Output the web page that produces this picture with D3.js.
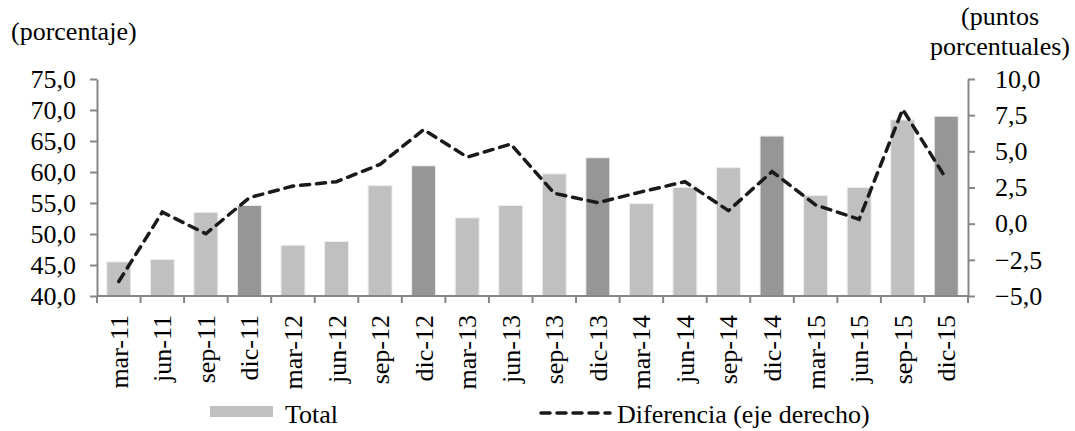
<!DOCTYPE html>
<html>
<head>
<meta charset="utf-8">
<script src="https://cdn.jsdelivr.net/npm/d3@7"></script>
<style>
  body { margin: 0; background: #fff; }
  svg text { font-family: "Liberation Serif", "Times New Roman", serif; fill: #000; }
</style>
</head>
<body>
<svg id="chart" width="1075" height="431"></svg>
<script>
const categories = ['mar-11','jun-11','sep-11','dic-11','mar-12','jun-12','sep-12','dic-12',
  'mar-13','jun-13','sep-13','dic-13','mar-14','jun-14','sep-14','dic-14',
  'mar-15','jun-15','sep-15','dic-15'];
const total = [45.5, 45.9, 53.5, 54.6, 48.2, 48.8, 57.8, 61.0,
  52.6, 54.6, 59.7, 62.3, 54.9, 57.5, 60.7, 65.8,
  56.2, 57.5, 68.4, 69.0];
const diferencia = [-4.0, 0.8, -0.7, 1.8, 2.6, 2.9, 4.1, 6.5,
  4.6, 5.5, 2.1, 1.45, 2.2, 2.9, 0.9, 3.6,
  1.3, 0.3, 7.9, 3.1];
const leftTicks = [40, 45, 50, 55, 60, 65, 70, 75];
const rightTicks = [-5, -2.5, 0, 2.5, 5, 7.5, 10];

const font_size = 26;
const axis_color = '#868686';
const light_bar = '#c0c0c0';
const dark_bar = '#969696';

const svg = d3.select('#chart');

const plot_left = 97, plot_right = 968, plot_top = 79, plot_bottom = 296;

const x = d3.scaleBand()
  .domain(categories)
  .range([plot_left, plot_right])
  .padding(0);

const yL = d3.scaleLinear().domain([40, 75]).range([plot_bottom, plot_top]);
const yR = d3.scaleLinear().domain([-5, 10]).range([plot_bottom, plot_top]);

const fmt = d => d3.format('.1f')(d).replace('.', ',');

// bars
const bar_w = x.bandwidth() * 0.55;
svg.append('g')
  .selectAll('rect')
  .data(categories)
  .join('rect')
  .attr('x', d => x(d) + (x.bandwidth() - bar_w) / 2)
  .attr('y', (d, i) => yL(total[i]))
  .attr('width', bar_w)
  .attr('height', (d, i) => yL(40) - yL(total[i]))
  .attr('fill', d => d.startsWith('dic') ? dark_bar : light_bar)
  .attr('stroke', '#eeeeee')
  .attr('stroke-width', 1);

// left axis
const gL = svg.append('g')
  .attr('transform', `translate(${plot_left},0)`)
  .call(d3.axisLeft(yL).tickValues(leftTicks).tickSize(7).tickSizeOuter(0).tickPadding(14).tickFormat(fmt));

// right axis
const gR = svg.append('g')
  .attr('transform', `translate(${plot_right},0)`)
  .call(d3.axisRight(yR).tickValues(rightTicks).tickSize(7).tickSizeOuter(0).tickPadding(20).tickFormat(fmt));

[gL, gR].forEach(g => {
  g.select('.domain').attr('stroke', axis_color).attr('stroke-width', 2);
  g.selectAll('.tick line').attr('stroke', axis_color).attr('stroke-width', 2);
  g.selectAll('.tick text').attr('font-size', font_size).attr('font-family', '"Liberation Serif", serif');
});

// x axis
const gX = svg.append('g')
  .attr('transform', `translate(0,${plot_bottom})`);
gX.append('line')
  .attr('x1', plot_left).attr('x2', plot_right)
  .attr('stroke', axis_color).attr('stroke-width', 2);
gX.selectAll('line.tk')
  .data([...categories.map(d => x(d)), plot_right])
  .join('line')
  .attr('class', 'tk')
  .attr('x1', d => d).attr('x2', d => d)
  .attr('y1', 0).attr('y2', 7)
  .attr('stroke', axis_color).attr('stroke-width', 2);
gX.selectAll('text')
  .data(categories)
  .join('text')
  .attr('transform', d => `translate(${x(d) + x.bandwidth() / 2 + 9},19) rotate(-90)`)
  .attr('text-anchor', 'end')
  .attr('font-size', font_size)
  .text(d => d);

// dashed line
const line = d3.line()
  .x((d, i) => x(categories[i]) + x.bandwidth() / 2)
  .y(d => yR(d));
svg.append('path')
  .datum(diferencia)
  .attr('d', line)
  .attr('fill', 'none')
  .attr('stroke', '#1a1a1a')
  .attr('stroke-width', 3.5)
  .attr('stroke-dasharray', '9,7')
  .attr('stroke-linecap', 'round');

// axis titles
svg.append('text')
  .attr('x', 11).attr('y', 40)
  .attr('font-size', font_size)
  .text('(porcentaje)');
svg.append('text')
  .attr('x', 1000).attr('y', 25)
  .attr('text-anchor', 'middle')
  .attr('font-size', font_size)
  .text('(puntos');
svg.append('text')
  .attr('x', 1000).attr('y', 55)
  .attr('text-anchor', 'middle')
  .attr('font-size', font_size)
  .text('porcentuales)');

// legend
const leg = svg.append('g');
leg.append('rect')
  .attr('x', 210).attr('y', 406)
  .attr('width', 63).attr('height', 11)
  .attr('fill', light_bar);
leg.append('text')
  .attr('x', 285).attr('y', 423)
  .attr('font-size', font_size)
  .text('Total');
leg.append('line')
  .attr('x1', 541).attr('x2', 610)
  .attr('y1', 413).attr('y2', 413)
  .attr('stroke', '#1a1a1a')
  .attr('stroke-width', 3.5)
  .attr('stroke-dasharray', '9,7')
  .attr('stroke-linecap', 'round');
leg.append('text')
  .attr('x', 617).attr('y', 423)
  .attr('font-size', font_size)
  .text('Diferencia (eje derecho)');
</script>
</body>
</html>
